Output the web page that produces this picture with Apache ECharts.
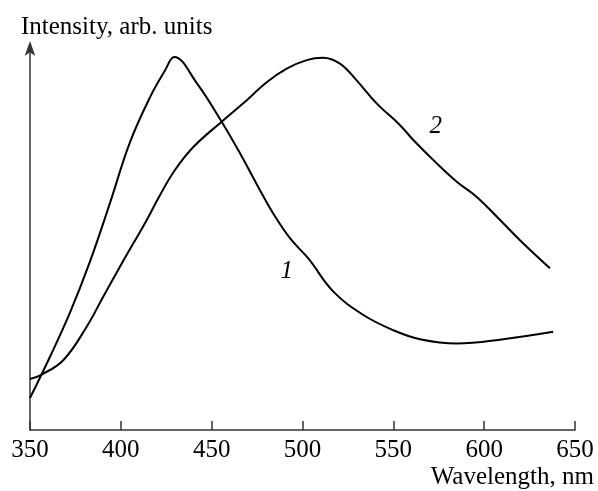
<!DOCTYPE html>
<html>
<head>
<meta charset="utf-8">
<script src="https://cdn.jsdelivr.net/npm/echarts@6/dist/echarts.min.js"></script>
<style>
  html, body { margin: 0; padding: 0; background: #fff; }
  #chart { width: 598px; height: 491px; }
</style>
</head>
<body>
<div id="chart"></div>
<script>
// Emission spectra: wavelength (nm) vs. intensity (arb. units)
const wavelength1 = [350, 361.0, 372.0, 383.0, 394.0, 405.0, 416.1, 424.3, 429.4, 441.8, 455.5, 465.6, 476.6, 483.8, 493.1, 503.2, 517.0, 533.5, 550.0, 564.7, 584.9, 610.5, 638.0];
const intensity1  = [8.2, 18.8, 30.1, 43.2, 58.2, 73.8, 85.4, 92.2, 95.7, 89.0, 79.1, 71.0, 61.5, 55.6, 49.2, 44.0, 35.5, 29.5, 25.6, 23.3, 22.2, 23.3, 25.2];

const wavelength2 = [350, 355.9, 368.3, 381.2, 390.3, 399.5, 406.9, 414.2, 421.6, 429.8, 439.9, 455.5, 467.4, 480.3, 491.3, 502.3, 511.4, 520.6, 529.8, 540.8, 553.7, 561.0, 573.9, 584.9, 595.9, 607.0, 619.7, 636.2];
const intensity2  = [13.1, 14.1, 17.9, 26.5, 34.2, 41.9, 47.9, 53.8, 60.3, 66.7, 72.6, 79.1, 83.8, 89.2, 92.7, 94.9, 95.5, 94.0, 89.7, 83.8, 78.2, 74.4, 68.4, 63.7, 59.8, 54.7, 48.7, 41.5];

const xTicks = [350, 400, 450, 500, 550, 600, 650];
const curveLabels = [
  { name: '1', coord: [491.3, 40.6] },
  { name: '2', coord: [573.3, 77.8] }
];

const serif = '"Liberation Serif", "DejaVu Serif", serif';

const pairs = (xs, ys) => xs.map((x, i) => [x, ys[i]]);

const chart = echarts.init(document.getElementById('chart'), null, { renderer: 'canvas' });

const lineSeries = (data, label) => ({
  type: 'line',
  data,
  smooth: 0.4,
  showSymbol: false,
  symbol: 'none',
  lineStyle: { color: '#000', width: 2 },
  silent: true,
  markPoint: {
    symbol: 'circle',
    symbolSize: 2,
    silent: true,
    itemStyle: { color: 'rgba(0,0,0,0)' },
    label: {
      show: true,
      formatter: label.name,
      color: '#000',
      fontFamily: serif,
      fontStyle: 'italic',
      fontSize: 25,
      position: 'inside'
    },
    data: [{ coord: label.coord }]
  }
});

chart.setOption({
  animation: false,
  backgroundColor: '#fff',
  grid: { left: 30, right: 23, top: 48, bottom: 61 },
  xAxis: {
    type: 'value',
    min: xTicks[0],
    max: xTicks[xTicks.length - 1],
    interval: 50,
    axisLine: { show: true, lineStyle: { color: '#333', width: 1.5 } },
    axisTick: { show: true, inside: true, length: 9, lineStyle: { color: '#333', width: 1.5 } },
    splitLine: { show: false },
    axisLabel: {
      color: '#000',
      fontFamily: serif,
      fontSize: 25,
      margin: 8
    }
  },
  yAxis: {
    type: 'value',
    min: 0,
    max: 98,
    axisLine: {
      show: true,
      symbol: ['none', 'arrow'],
      symbolSize: [8, 15],
      symbolOffset: [0, 7],
      lineStyle: { color: '#333', width: 1.5 }
    },
    axisTick: { show: false },
    axisLabel: { show: false },
    splitLine: { show: false }
  },
  graphic: [
    {
      type: 'text',
      left: 21,
      top: 15,
      style: { text: 'Intensity, arb. units', font: '25px ' + serif, fill: '#000' }
    },
    {
      type: 'text',
      right: 4,
      top: 465,
      style: { text: 'Wavelength, nm', font: '25px ' + serif, fill: '#000' }
    }
  ],
  series: [
    lineSeries(pairs(wavelength1, intensity1), curveLabels[0]),
    lineSeries(pairs(wavelength2, intensity2), curveLabels[1])
  ]
});
</script>
</body>
</html>
